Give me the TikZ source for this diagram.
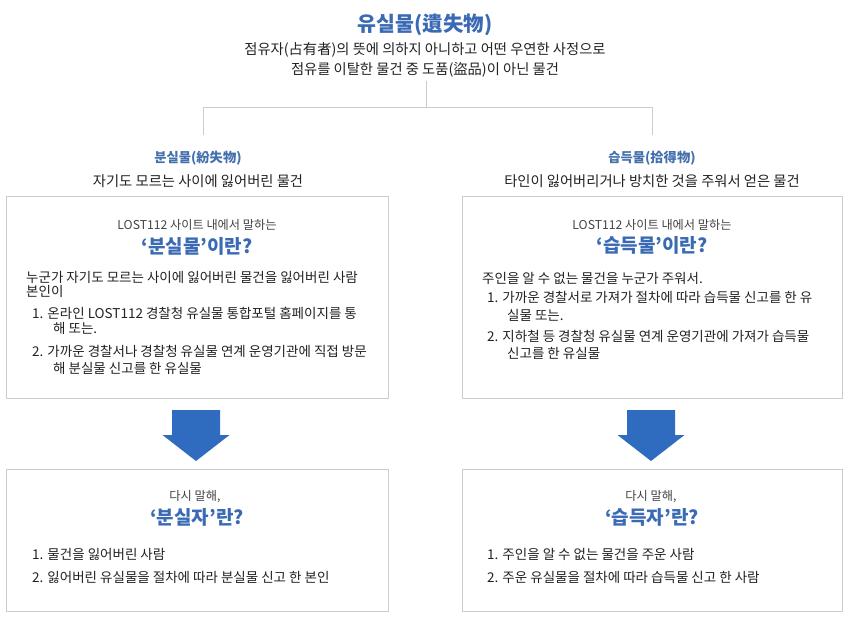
\documentclass[tikz,border=0pt]{standalone}
\usepackage{fontspec}
\setmainfont{Noto Sans CJK KR}
\definecolor{titleblue}{HTML}{3A6AB4}
\definecolor{headblue}{HTML}{4470AD}
\definecolor{arrowblue}{HTML}{2F6BBF}
\definecolor{boxgray}{HTML}{CCCCCC}
\definecolor{txtcol}{HTML}{222222}
\definecolor{smallcol}{HTML}{444444}
\tikzset{
  tnode/.style={inner sep=0pt, text=txtcol},
  titletext/.style={tnode, text=titleblue, font=\fontsize{20.5bp}{24bp}\selectfont\bfseries},
  subtext/.style={tnode, font=\fontsize{14.3bp}{17bp}\selectfont},
  headtext/.style={tnode, text=headblue, font=\fontsize{13.3bp}{16bp}\selectfont\bfseries},
  smalltext/.style={tnode, text=smallcol, font=\fontsize{12.2bp}{14bp}\selectfont},
  bigtext/.style={tnode, text=titleblue, font=\fontsize{19bp}{23bp}\selectfont\bfseries},
  bodytext/.style={tnode, anchor=west, font=\fontsize{13.5bp}{16bp}\selectfont},
  panel/.style={draw=boxgray, line width=1bp, rectangle, inner sep=0pt},
  conn/.style={draw=boxgray, line width=1bp},
  bigarrow/.style={fill=arrowblue}
}
\begin{document}
\begin{tikzpicture}[x=1bp,y=-1bp]
\useasboundingbox[fill=white] (0,0) rectangle (850,620);

% title
\node[titletext] (root) at (425,25) {유실물(遺失物)};
\node[subtext] (d1) at (425,50) {점유자(占有者)의 뜻에 의하지 아니하고 어떤 우연한 사정으로};
\node[subtext] (d2) at (425,70) {점유를 이탈한 물건 중 도품(盜品)이 아닌 물건};

% connectors
\coordinate (c0) at (426,81);
\coordinate (cm) at (426,108);
\coordinate (cl) at (203,135);
\coordinate (cr) at (652,135);
\draw[conn] (c0) -- (cm) -| (cl);
\draw[conn] (cm) -| (cr);

% headers
\node[headtext] (lh) at (198,158) {분실물(紛失物)};
\node[subtext] (ld) at (198,181) {자기도 모르는 사이에 잃어버린 물건};
\node[headtext] (rh) at (652,158) {습득물(拾得物)};
\node[subtext] (rd) at (652,181) {타인이 잃어버리거나 방치한 것을 주워서 얻은 물건};

% panels
\node[panel, minimum width=381bp, minimum height=201bp] (lbox) at (197.5,297.5) {};
\node[panel, minimum width=380bp, minimum height=201bp] (rbox) at (652,297.5) {};
\node[panel, minimum width=381bp, minimum height=142bp] (lbot) at (197.5,540) {};
\node[panel, minimum width=380bp, minimum height=142bp] (rbot) at (652,540) {};

% arrows
\fill[bigarrow] (172,410) -- (220,410) -- (220,435) -- (229.5,435) -- (196,461) -- (162.5,435) -- (172,435) -- cycle;
\fill[bigarrow] (627,410) -- (675,410) -- (675,435) -- (684.5,435) -- (651,461) -- (617.5,435) -- (627,435) -- cycle;

% left top panel text
\node[smalltext] (l1) at (197,225) {LOST112 사이트 내에서 말하는};
\node[bigtext] (l2) at (197,246) {‘분실물’이란?};
\node[bodytext] (l3) at (26,277) {누군가 자기도 모르는 사이에 잃어버린 물건을 잃어버린 사람};
\node[bodytext] (l4) at (26,291) {본인이};
\node[bodytext] (l5) at (32,313) {1. 온라인 LOST112 경찰청 유실물 통합포털 홈페이지를 통};
\node[bodytext] (l6) at (53,328) {해 또는.};
\node[bodytext] (l7) at (32,351) {2. 가까운 경찰서나 경찰청 유실물 연계 운영기관에 직접 방문};
\node[bodytext] (l8) at (53,368) {해 분실물 신고를 한 유실물};

% right top panel text
\node[smalltext] (r1) at (652,225) {LOST112 사이트 내에서 말하는};
\node[bigtext] (r2) at (652,245) {‘습득물’이란?};
\node[bodytext] (r3) at (482,278) {주인을 알 수 없는 물건을 누군가 주워서.};
\node[bodytext] (r4) at (487,297) {1. 가까운 경찰서로 가져가 절차에 따라 습득물 신고를 한 유};
\node[bodytext] (r5) at (507,315) {실물 또는.};
\node[bodytext] (r6) at (487,336) {2. 지하철 등 경찰청 유실물 연계 운영기관에 가져가 습득물};
\node[bodytext] (r7) at (507,353) {신고를 한 유실물};

% left bottom panel text
\node[smalltext] (lb1) at (195,497) {다시 말해,};
\node[bigtext] (lb2) at (197,517) {‘분실자’란?};
\node[bodytext] (lb3) at (32,554) {1. 물건을 잃어버린 사람};
\node[bodytext] (lb4) at (32,577) {2. 잃어버린 유실물을 절차에 따라 분실물 신고 한 본인};

% right bottom panel text
\node[smalltext] (rb1) at (651,497) {다시 말해,};
\node[bigtext] (rb2) at (652,517) {‘습득자’란?};
\node[bodytext] (rb3) at (487,554) {1. 주인을 알 수 없는 물건을 주운 사람};
\node[bodytext] (rb4) at (487,577) {2. 주운 유실물을 절차에 따라 습득물 신고 한 사람};
\end{tikzpicture}
\end{document}
